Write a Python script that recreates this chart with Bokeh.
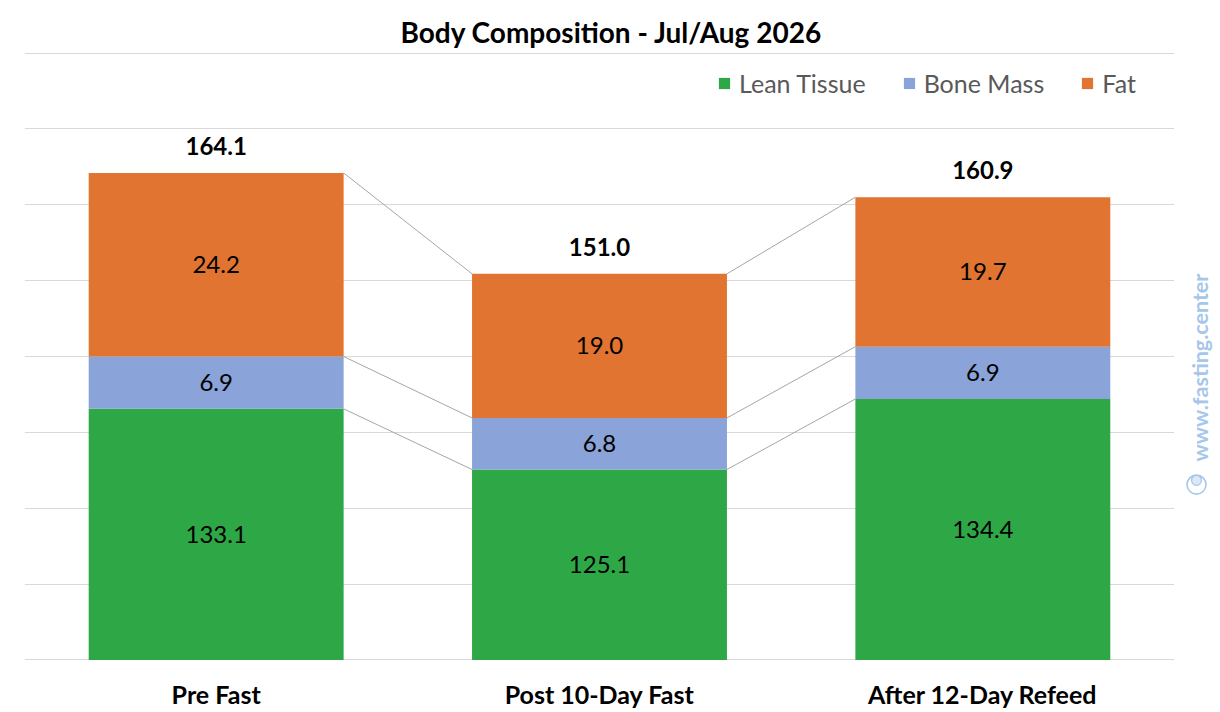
import math
from bokeh.plotting import figure
from bokeh.layouts import row
from bokeh.models import (ColumnDataSource, FactorRange, Range1d, FixedTicker,
                          Legend, LegendItem)
from bokeh.core.properties import value
from bokeh.embed import file_html
from bokeh.resources import INLINE

# ---- data ----
categories = ["Pre Fast", "Post 10-Day Fast", "After 12-Day Refeed"]
lean = [133.1, 125.1, 134.4]
bone = [6.9, 6.8, 6.9]
fat = [24.2, 19.0, 19.7]
totals = [164.1, 151.0, 160.9]
series_names = ["Lean Tissue", "Bone Mass", "Fat"]
colors = ["#2EA846", "#8AA3D8", "#E17430"]
y_min, y_max, y_step = 100, 180, 10
watermark = "www.fasting.center"

FONT = "Lato"
BAR_W = 0.665
WM_COLOR = "#A6C6EA"

lean_top = [l for l in lean]
bone_top = [l + b for l, b in zip(lean, bone)]
fat_top = [l + b + f for l, b, f in zip(lean, bone, fat)]

src = ColumnDataSource(dict(
    cat=categories,
    lean_bot=[y_min] * len(categories), lean_top=lean_top,
    bone_bot=lean_top, bone_top=bone_top,
    fat_bot=bone_top, fat_top=fat_top,
    lean_mid=[(y_min + t) / 2 for t in lean_top],
    bone_mid=[(a + b) / 2 for a, b in zip(lean_top, bone_top)],
    fat_mid=[(a + b) / 2 for a, b in zip(bone_top, fat_top)],
    lean_lbl=[f"{v:.1f}" for v in lean],
    bone_lbl=[f"{v:.1f}" for v in bone],
    fat_lbl=[f"{v:.1f}" for v in fat],
    tot_lbl=[f"{v:.1f}" for v in totals],
))

p = figure(width=1174, height=712, output_backend="svg", toolbar_location=None,
           x_range=FactorRange(factors=categories, range_padding=0),
           y_range=Range1d(y_min - 0.08, y_max + 0.08),
           min_border_left=24, min_border_right=0,
           min_border_top=52, min_border_bottom=52)
p.outline_line_color = None
p.background_fill_color = "white"
p.border_fill_color = "white"

# title
p.title.text = "Body Composition - Jul/Aug 2026"
p.title.align = "left"
p.title.offset = 376
p.title.text_font = FONT
p.title.text_font_size = "28px"
p.title.text_font_style = "bold"
p.title.text_color = "black"
p.title.standoff = 8

# grid
p.yaxis.ticker = FixedTicker(ticks=list(range(y_min, y_max + 1, y_step)))
p.yaxis.visible = False
p.xgrid.grid_line_color = None
p.ygrid.grid_line_color = "#D9D9D9"
p.ygrid.grid_line_width = 1

# x axis (category labels)
xa = p.xaxis[0]
xa.axis_line_color = None
xa.major_tick_line_color = None
xa.minor_tick_line_color = None
xa.major_tick_out = 0
xa.major_label_standoff = 18
xa.major_label_text_font = FONT
xa.major_label_text_font_size = "25px"
xa.major_label_text_font_style = "bold"
xa.major_label_text_color = "black"

# connector lines
n = len(categories)
for level in (lean_top, bone_top, fat_top):
    x0 = [i + 0.5 + BAR_W / 2 for i in range(n - 1)]
    x1 = [i + 1.5 - BAR_W / 2 for i in range(n - 1)]
    p.segment(x0=x0, y0=level[:-1], x1=x1, y1=level[1:],
              line_color="#A6A6A6", line_width=1)

# bars
r_lean = p.vbar(x="cat", bottom="lean_bot", top="lean_top", width=BAR_W,
                source=src, fill_color=colors[0], line_color=None)
r_bone = p.vbar(x="cat", bottom="bone_bot", top="bone_top", width=BAR_W,
                source=src, fill_color=colors[1], line_color=None)
r_fat = p.vbar(x="cat", bottom="fat_bot", top="fat_top", width=BAR_W,
               source=src, fill_color=colors[2], line_color=None)

# segment labels
for ycol, lcol in (("lean_mid", "lean_lbl"), ("bone_mid", "bone_lbl"), ("fat_mid", "fat_lbl")):
    p.text(x="cat", y=ycol, text=lcol, source=src, text_align="center",
           text_baseline="middle", text_font=value(FONT), text_font_size="24px",
           text_color="black")

# totals
p.text(x="cat", y="fat_top", text="tot_lbl", source=src, text_align="center",
       text_baseline="middle", y_offset=-27, text_font=value(FONT),
       text_font_size="24px", text_font_style="bold", text_color="black")

# legend
legend = Legend(items=[LegendItem(label=series_names[0], renderers=[r_lean]),
                       LegendItem(label=series_names[1], renderers=[r_bone]),
                       LegendItem(label=series_names[2], renderers=[r_fat])],
                orientation="horizontal", location=(693, 562),
                glyph_width=14, glyph_height=14, label_height=30,
                label_standoff=8, spacing=36, padding=0, margin=0,
                border_line_color=None, background_fill_alpha=0,
                label_text_font=FONT, label_text_font_size="25px",
                label_text_color="#595959")
p.add_layout(legend)

# watermark strip (pixel coordinates)
w = figure(width=46, height=712, output_backend="svg", toolbar_location=None,
           x_range=Range1d(0, 46), y_range=Range1d(0, 712),
           min_border_left=0, min_border_right=0,
           min_border_top=0, min_border_bottom=0)
w.axis.visible = False
w.grid.grid_line_color = None
w.outline_line_color = None
w.text(x=[25], y=[343], text=[watermark], angle=math.pi / 2,
       text_align="center", text_baseline="middle", text_font=value(FONT),
       text_font_size="21.5px", text_font_style="bold", text_color=WM_COLOR)
w.scatter(x=[22], y=[206], marker="circle", size=19, fill_color=None,
          line_color=WM_COLOR, line_width=1.6)
w.scatter(x=[22], y=[211], marker="circle", size=10, fill_color="#DCE8F6",
          line_color=WM_COLOR, line_width=1.3)

layout = row(p, w, spacing=0)
open("out.html", "w").write(file_html(layout, INLINE))
